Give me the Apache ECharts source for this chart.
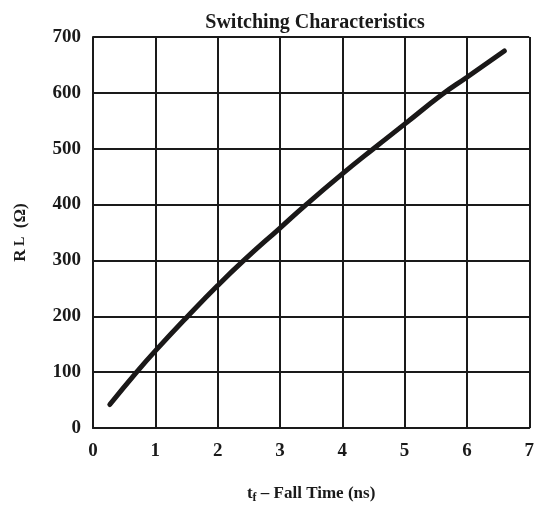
<!DOCTYPE html>
<html>
<head>
<meta charset="utf-8">
<script src="https://cdn.jsdelivr.net/npm/echarts@6/dist/echarts.min.js"></script>
<style>
html,body{margin:0;padding:0;background:#fff;}
#c{width:537px;height:509px;}
</style>
</head>
<body>
<div id="c"></div>
<script>
// Data
const fallTime = [0.27, 0.7, 1.0, 1.52, 2.0, 2.42, 3.0, 3.42, 4.0, 4.5, 5.0, 5.6, 6.0, 6.6];
const loadRes  = [42, 100, 138, 200, 255, 300, 358, 400, 455, 500, 544, 597, 628, 675];
const xTicks = [0, 1, 2, 3, 4, 5, 6, 7];
const yTicks = [0, 100, 200, 300, 400, 500, 600, 700];

const seriesData = fallTime.map((x, i) => [x, loadRes[i]]);
const font = '"Liberation Serif", "DejaVu Serif", serif';

const chart = echarts.init(document.getElementById('c'));
chart.setOption({
  animation: false,
  backgroundColor: '#fff',
  title: {
    text: 'Switching Characteristics',
    left: 310, top: 8, textAlign: 'center',
    textStyle: { fontFamily: font, fontWeight: 'bold', fontSize: 20, color: '#1a1a1a' }
  },
  grid: { left: 93, right: 6, top: 37, bottom: 77 },
  xAxis: {
    type: 'value', min: xTicks[0], max: xTicks[xTicks.length - 1], interval: 1,
    axisLine: { show: true, lineStyle: { color: '#1a1a1a', width: 2 } },
    axisTick: { show: false },
    splitLine: { show: true, lineStyle: { color: '#1a1a1a', width: 2 } },
    axisLabel: { margin: 14, fontFamily: font, fontWeight: 'bold', fontSize: 19, color: '#1a1a1a' },
    name: '{t|t}{s|f}{t| – Fall Time (ns)}',
    nameLocation: 'middle', nameGap: 56,
    nameTextStyle: {
      rich: {
        t: { fontFamily: font, fontWeight: 'bold', fontSize: 17, color: '#1a1a1a' },
        s: { fontFamily: font, fontWeight: 'bold', fontSize: 12, color: '#1a1a1a', padding: [8, 0, 0, 0] }
      }
    }
  },
  yAxis: {
    type: 'value', min: yTicks[0], max: yTicks[yTicks.length - 1], interval: 100,
    axisLine: { show: true, lineStyle: { color: '#1a1a1a', width: 2 } },
    axisTick: { show: false },
    splitLine: { show: true, lineStyle: { color: '#1a1a1a', width: 2 } },
    axisLabel: { margin: 12, fontFamily: font, fontWeight: 'bold', fontSize: 19, color: '#1a1a1a' },
    name: '{t|R}{s| L}{t|  (Ω)}',
    nameLocation: 'middle', nameRotate: 90, nameGap: 64,
    nameTextStyle: {
      rich: {
        t: { fontFamily: font, fontWeight: 'bold', fontSize: 17, color: '#1a1a1a' },
        s: { fontFamily: font, fontWeight: 'bold', fontSize: 14, color: '#1a1a1a' }
      }
    }
  },
  series: [{
    type: 'line',
    data: seriesData,
    smooth: true,
    showSymbol: false,
    lineStyle: { color: '#1a1818', width: 5, cap: 'round' }
  }]
});
</script>
</body>
</html>
